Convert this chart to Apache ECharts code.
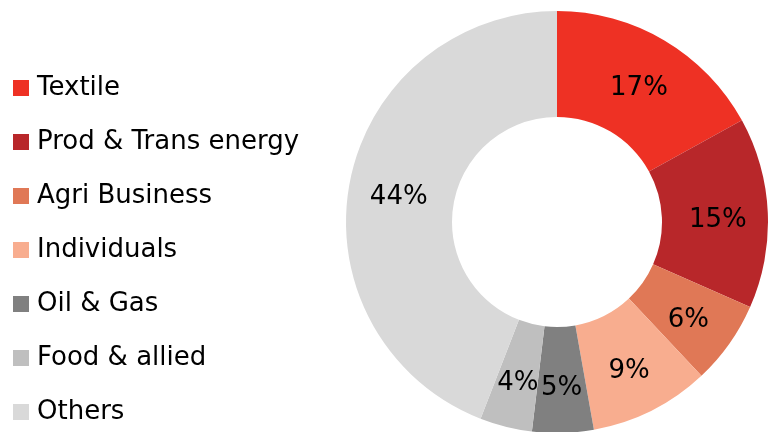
<!DOCTYPE html>
<html>
<head>
<meta charset="utf-8">
<script src="https://cdn.jsdelivr.net/npm/echarts@6/dist/echarts.min.js"></script>
<style>html,body{margin:0;padding:0;background:#fff}#c{width:769px;height:432px}</style>
</head>
<body>
<div id="c"></div>
<script>
const categories = ['Textile', 'Prod & Trans energy', 'Agri Business', 'Individuals', 'Oil & Gas', 'Food & allied', 'Others'];
const values = [17.0, 14.6, 6.4, 9.2, 4.7, 4.0, 44.1];
const colors = ['#EE3124', '#B8272A', '#E07856', '#F8AD8F', '#808080', '#BFBFBF', '#D9D9D9'];

const chart = echarts.init(document.getElementById('c'), null, {renderer: 'canvas'});
chart.setOption({
  animation: false,
  color: colors,
  legend: {
    orient: 'vertical',
    left: 13,
    top: 73,
    height: 360,
    padding: 0,
    itemWidth: 16,
    itemHeight: 16,
    itemGap: 24,
    icon: 'rect',
    textStyle: {fontFamily: 'DejaVu Sans', fontSize: 26, color: '#000', lineHeight: 30, padding: [0, 0, 0, 3]},
    data: categories
  },
  series: [{
    type: 'pie',
    center: [557, 222],
    radius: [105, 211],
    startAngle: 90,
    clockwise: true,
    avoidLabelOverlap: false,
    percentPrecision: 0,
    label: {
      show: true,
      position: 'inside',
      formatter: '{d}%',
      fontFamily: 'DejaVu Sans',
      fontSize: 26,
      color: '#000'
    },
    labelLayout: {dy: 5},
    labelLine: {show: false},
    emphasis: {disabled: true},
    data: categories.map((n, i) => ({name: n, value: values[i]}))
  }]
});
</script>
</body>
</html>
